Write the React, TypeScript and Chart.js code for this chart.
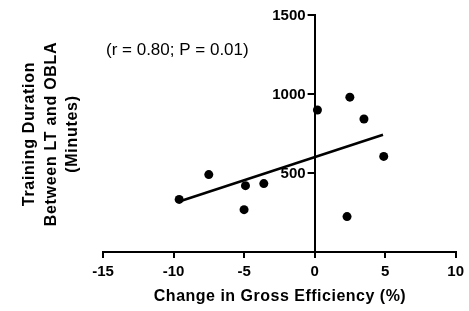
import { useEffect, useRef } from "react";
import { Chart, registerables } from "chart.js";

Chart.register(...registerables);

// Data
const gainX = [-9.6, -7.5, -4.9, -5.0, -3.6, 0.2, 2.5, 3.5, 4.9, 2.3];
const durationY = [333, 490, 420, 268, 433, 899, 980, 842, 605, 224];
const fitX = [-9.6, 4.85];
const fitY = [320, 742];
const xMin = -15;
const xMax = 10;
const xStep = 5;
const yMin = 0;
const yMax = 1500;
const yTickValues = [500, 1000, 1500];
const xTitle = "Change in Gross Efficiency (%)";
const yTitleLines = ["Training Duration", "Between LT and OBLA", "(Minutes)"];
const annotation = "(r = 0.80; P = 0.01)";

const FONT = "'Liberation Sans', Arial, sans-serif";

const textPlugin = {
  id: "textPlugin",
  afterDraw(chart: any) {
    const ctx = chart.ctx as CanvasRenderingContext2D;
    const xs = chart.scales.x;
    const ys = chart.scales.y;
    const axisX = xs.getPixelForValue(0);
    ctx.save();
    ctx.fillStyle = "#000";
    ctx.strokeStyle = "#000";
    // y ticks and labels on the axis at x = 0
    ctx.lineWidth = 2;
    ctx.font = `bold 15px ${FONT}`;
    ctx.textAlign = "right";
    ctx.textBaseline = "middle";
    yTickValues.forEach((v) => {
      const py = Math.round(ys.getPixelForValue(v));
      ctx.beginPath();
      ctx.moveTo(axisX - 7, py);
      ctx.lineTo(axisX, py);
      ctx.stroke();
      ctx.fillText(String(v), axisX - 9, py + 1);
    });
    // annotation
    ctx.font = `17px ${FONT}`;
    ctx.textAlign = "left";
    ctx.fillText(annotation, 106, 50);
    // x title
    (ctx as any).letterSpacing = "0.5px";
    ctx.font = `bold 16px ${FONT}`;
    ctx.textAlign = "center";
    ctx.fillText(xTitle, 280, 297);
    // y title
    (ctx as any).letterSpacing = "0.7px";
    const lx = [30, 51.5, 72.5];
    yTitleLines.forEach((line, i) => {
      ctx.save();
      ctx.translate(lx[i], 134);
      ctx.rotate(-Math.PI / 2);
      ctx.fillText(line, 0, 0);
      ctx.restore();
    });
    ctx.restore();
  },
};

export default function App() {
  const ref = useRef<HTMLCanvasElement | null>(null);
  useEffect(() => {
    if (!ref.current) return;
    const chart = new Chart(ref.current, {
      type: "scatter",
      data: {
        datasets: [
          {
            data: gainX.map((x, i) => ({ x, y: durationY[i] })),
            backgroundColor: "#000",
            borderColor: "#000",
            borderWidth: 0,
            pointRadius: 4.5,
          },
          {
            type: "line",
            data: fitX.map((x, i) => ({ x, y: fitY[i] })),
            borderColor: "#000",
            borderWidth: 2.5,
            pointRadius: 0,
            showLine: true,
            fill: false,
          } as any,
        ],
      },
      options: {
        animation: false,
        responsive: true,
        maintainAspectRatio: false,
        layout: { padding: { left: 103, right: 10, top: 15, bottom: 25 } },
        plugins: { legend: { display: false }, tooltip: { enabled: false } },
        scales: {
          x: {
            type: "linear",
            position: "bottom",
            min: xMin,
            max: xMax,
            ticks: {
              stepSize: xStep,
              color: "#000",
              font: { family: FONT, size: 15, weight: "bold" },
              padding: 5,
              maxRotation: 0,
            },
            grid: {
              drawOnChartArea: false,
              drawTicks: true,
              tickLength: 6,
              color: "#000",
              lineWidth: 2,
            },
            border: { display: true, color: "#000", width: 2 },
          },
          y: {
            type: "linear",
            position: { x: 0 } as any,
            min: yMin,
            max: yMax,
            ticks: { display: false },
            grid: { display: false },
            border: { display: true, color: "#000", width: 2 },
          },
        },
      },
      plugins: [textPlugin],
    });
    return () => chart.destroy();
  }, []);
  return (
    <div
      style={{
        position: "fixed",
        left: 0,
        top: 0,
        width: 469,
        height: 311,
        background: "#fff",
      }}
    >
      <canvas ref={ref} />
    </div>
  );
}
